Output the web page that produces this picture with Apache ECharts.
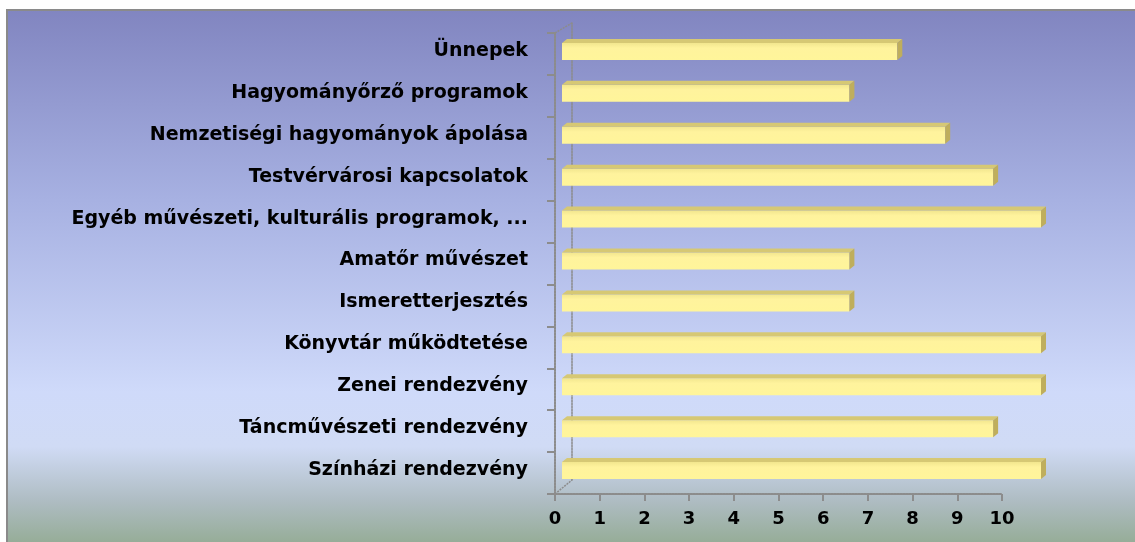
<!DOCTYPE html>
<html>
<head>
<meta charset="utf-8">
<script src="https://cdn.jsdelivr.net/npm/echarts@6/dist/echarts.min.js"></script>
<style>
html,body{margin:0;padding:0;background:#fff;}
#main{width:1135px;height:542px;}
</style>
</head>
<body>
<div id="main"></div>
<script>
var categories = ['Ünnepek', 'Hagyományőrző programok', 'Nemzetiségi hagyományok ápolása', 'Testvérvárosi kapcsolatok',
	'Egyéb művészeti, kulturális programok, ...', 'Amatőr művészet', 'Ismeretterjesztés', 'Könyvtár működtetése',
	'Zenei rendezvény', 'Táncművészeti rendezvény', 'Színházi rendezvény'];
var values = [7, 6, 8, 9, 10, 6, 6, 10, 10, 9, 10];
var tickLabels = ['0', '1', '2', '3', '4', '5', '6', '7', '8', '9', '10'];

var labelFont = 'DejaVu Sans';
var axisColor = '#8c8c8c';

//3D bar: front face + top face + right face
function renderBar(params, api) {
	var end = api.coord([api.value(0), api.value(1)]);
	var start = api.coord([0, api.value(1)]);
	var x0 = start[0], x1 = end[0], yc = end[1];
	var yTop = yc - 8, yBot = yc + 9;
	var dx = 5, dy = 4;
	return {
		type: 'group',
		children: [
			{
				type: 'rect',
				shape: { x: x0, y: yTop, width: x1 - x0, height: yBot - yTop },
				style: {
					fill: new echarts.graphic.LinearGradient(0, 0, 0, 1, [
						{ offset: 0, color: '#f2e68e' },
						{ offset: 0.3, color: '#fff39d' },
						{ offset: 1, color: '#fff59a' }
					])
				}
			},
			{
				type: 'polygon',
				shape: { points: [[x0, yTop], [x0 + dx, yTop - dy], [x1 + dx, yTop - dy], [x1, yTop]] },
				style: { fill: '#d6c874' }
			},
			{
				type: 'polygon',
				shape: { points: [[x1, yTop], [x1 + dx, yTop - dy], [x1 + dx, yBot - dy], [x1, yBot]] },
				style: { fill: '#bfae5c' }
			}
		]
	};
}

var barData = [];
for (var i = 0; i < values.length; i++) {
	barData.push([values[i], i]);
}

var myChart = echarts.init(document.getElementById('main'));
var option = {
	backgroundColor: '#ffffff',
	animation: false,
	graphic: [
		{
			type: 'rect',
			z: -100,
			shape: { x: 7, y: 10, width: 1140, height: 545 },
			style: {
				fill: new echarts.graphic.LinearGradient(0, 0, 0, 1, [
					{ offset: 0, color: '#8185c0' },
					{ offset: 0.35, color: '#a7b1e2' },
					{ offset: 0.7, color: '#cfdafa' },
					{ offset: 0.8, color: '#d0dbf5' },
					{ offset: 0.9, color: '#aebcc2' },
					{ offset: 1, color: '#8ea88a' }
				]),
				stroke: '#8a8a8a',
				lineWidth: 2
			}
		},
		{
			type: 'line',
			shape: { x1: 555, y1: 33, x2: 572, y2: 23 },
			style: { stroke: axisColor, lineWidth: 1.5, lineDash: [2, 1] }
		},
		{
			type: 'line',
			shape: { x1: 555, y1: 494, x2: 572, y2: 480 },
			style: { stroke: axisColor, lineWidth: 1.5, lineDash: [2, 1] }
		}
	],
	grid: [
		{ left: 555, right: 133, top: 33, bottom: 48 },
		{ left: 562, right: 94, top: 30, bottom: 51 },
		{ left: 572, right: 94, top: 23, bottom: 62 }
	],
	xAxis: [
		{
			gridIndex: 0,
			type: 'value',
			min: 0,
			max: 10,
			interval: 1,
			axisLine: { show: true, lineStyle: { color: axisColor, width: 2, type: [2, 1] } },
			axisTick: { show: true, length: 7, inside: false, lineStyle: { color: axisColor, width: 2 } },
			splitLine: { show: false },
			axisLabel: {
				margin: 16,
				color: '#000',
				fontFamily: labelFont,
				fontWeight: 'bold',
				fontSize: 18,
				formatter: function (v) { return tickLabels[v]; }
			}
		},
		{ gridIndex: 1, type: 'value', min: 0, max: 10, show: false },
		{ gridIndex: 2, type: 'value', min: 0, max: 10, show: false }
	],
	yAxis: [
		{
			gridIndex: 0,
			type: 'category',
			inverse: true,
			data: categories,
			axisLine: { show: true, lineStyle: { color: axisColor, width: 2, type: [2, 1] } },
			axisTick: { show: true, length: 8, lineStyle: { color: axisColor, width: 2 } },
			axisLabel: { show: false }
		},
		{
			gridIndex: 1,
			type: 'category',
			inverse: true,
			data: categories,
			axisLine: { show: false },
			axisTick: { show: false },
			axisLabel: {
				margin: 34,
				color: '#000',
				fontFamily: labelFont,
				fontWeight: 'bold',
				fontSize: 19
			}
		},
		{
			gridIndex: 2,
			type: 'category',
			data: categories,
			axisLine: { show: true, lineStyle: { color: axisColor, width: 1.5, type: [2, 1] } },
			axisTick: { show: false },
			axisLabel: { show: false }
		}
	],
	series: [
		{
			type: 'custom',
			xAxisIndex: 1,
			yAxisIndex: 1,
			renderItem: renderBar,
			encode: { x: 0, y: 1 },
			data: barData
		}
	]
};
myChart.setOption(option);
</script>
</body>
</html>
